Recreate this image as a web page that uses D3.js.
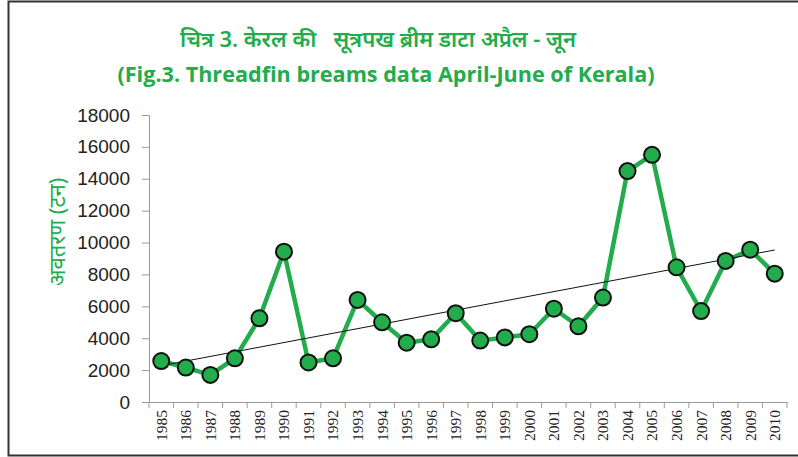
<!DOCTYPE html>
<html>
<head>
<meta charset="utf-8">
<script src="https://cdn.jsdelivr.net/npm/d3@7"></script>
<style>
  body { margin: 0; background: #fff; }
  svg { display: block; }
</style>
</head>
<body>
<div id="chart"></div>
<script>
// data
const years = ["1985", "1986", "1987", "1988", "1989", "1990", "1991", "1992", "1993",
  "1994", "1995", "1996", "1997", "1998", "1999", "2000", "2001", "2002", "2003",
  "2004", "2005", "2006", "2007", "2008", "2009", "2010"];
const landings = [2570, 2160, 1700, 2740, 5250, 9430, 2480, 2740, 6400,
  5000, 3720, 3930, 5570, 3850, 4050, 4250, 5850, 4750, 6550,
  14480, 15500, 8450, 5700, 8850, 9550, 8050];
const yTicks = [0, 2000, 4000, 6000, 8000, 10000, 12000, 14000, 16000, 18000];

const titleHindi = "चित्र 3. केरल की   सूत्रपख ब्रीम डाटा अप्रैल - जून";
const titleEng = "(Fig.3. Threadfin breams data April-June of Kerala)";
const yLabel = "अवतरण (टन)";

const green = "#22ac4c";
const W = 798, H = 457;
const margin = {left: 149, right: 11, top: 115, bottom: 55};
const width = W - margin.left - margin.right;
const height = H - margin.top - margin.bottom;

const svg = d3.select("#chart").append("svg")
  .attr("width", W)
  .attr("height", H);

// outer frame (right edge runs off the picture)
svg.append("path")
  .attr("d", `M${W + 5},1.5 H8.5 V455.5 H${W + 5}`)
  .attr("fill", "none")
  .attr("stroke", "#333")
  .attr("stroke-width", 2);

// titles
svg.append("text")
  .attr("x", 378)
  .attr("y", 47)
  .attr("text-anchor", "middle")
  .attr("fill", green)
  .attr("font-family", "'Noto Sans', sans-serif")
  .attr("font-size", "22px")
  .attr("font-weight", "600")
  .style("white-space", "pre")
  .text(titleHindi);

svg.append("text")
  .attr("x", 386)
  .attr("y", 82)
  .attr("text-anchor", "middle")
  .attr("fill", green)
  .attr("font-family", "'Open Sans', sans-serif")
  .attr("font-size", "21.6px")
  .attr("font-weight", "bold")
  .text(titleEng);

const g = svg.append("g")
  .attr("transform", `translate(${margin.left},${margin.top})`);

const x = d3.scaleBand()
  .domain(years)
  .range([0, width]);

const y = d3.scaleLinear()
  .domain([0, 18000])
  .range([height, 0]);

// y axis
const yAxis = g.append("g")
  .call(d3.axisLeft(y).tickValues(yTicks).tickSize(7).tickPadding(12).tickFormat(d3.format("d")));
yAxis.select(".domain").attr("stroke", "#999");
yAxis.selectAll(".tick line").attr("stroke", "#999");
yAxis.selectAll("text")
  .attr("font-family", "'Liberation Sans', Arial, sans-serif")
  .attr("font-size", "19px")
  .attr("fill", "#222");

// x axis with ticks between categories
const xAxis = g.append("g")
  .attr("transform", `translate(0,${height})`)
  .call(d3.axisBottom(x).tickSize(0).tickPadding(0));
xAxis.select(".domain").attr("stroke", "#999");
xAxis.selectAll(".tick text")
  .attr("transform", "rotate(-90)")
  .attr("x", -8)
  .attr("y", 0)
  .attr("dy", "0.35em")
  .attr("text-anchor", "end")
  .attr("font-family", "'Liberation Serif', serif")
  .attr("font-size", "15.5px")
  .attr("fill", "#222");

xAxis.selectAll(".sep")
  .data(d3.range(years.length + 1))
  .join("line")
  .attr("class", "sep")
  .attr("x1", i => i * x.step())
  .attr("x2", i => i * x.step())
  .attr("y1", 0)
  .attr("y2", 6)
  .attr("stroke", "#999");

// y axis title
svg.append("text")
  .attr("transform", "translate(65,232) rotate(-90)")
  .attr("text-anchor", "middle")
  .attr("fill", green)
  .attr("font-family", "'Noto Sans', sans-serif")
  .attr("font-size", "22px")
  .text(yLabel);

const cx = (d, i) => x(years[i]) + x.bandwidth() / 2;

// data line
g.append("path")
  .datum(landings)
  .attr("fill", "none")
  .attr("stroke", green)
  .attr("stroke-width", 4.5)
  .attr("stroke-linejoin", "round")
  .attr("d", d3.line().x(cx).y(d => y(d)));

// linear trend (least squares on the series)
const n = landings.length;
const idx = d3.range(n);
const mx = d3.mean(idx), my = d3.mean(landings);
const slope = d3.sum(idx, i => (i - mx) * (landings[i] - my)) / d3.sum(idx, i => (i - mx) ** 2);
const icpt = my - slope * mx;
g.append("line")
  .attr("x1", cx(0, 0))
  .attr("y1", y(icpt))
  .attr("x2", cx(0, n - 1))
  .attr("y2", y(icpt + slope * (n - 1)))
  .attr("stroke", "#111")
  .attr("stroke-width", 1);

// markers
g.selectAll(".pt")
  .data(landings)
  .join("circle")
  .attr("class", "pt")
  .attr("cx", cx)
  .attr("cy", d => y(d))
  .attr("r", 8)
  .attr("fill", green)
  .attr("stroke", "#111")
  .attr("stroke-width", 2);
</script>
</body>
</html>
